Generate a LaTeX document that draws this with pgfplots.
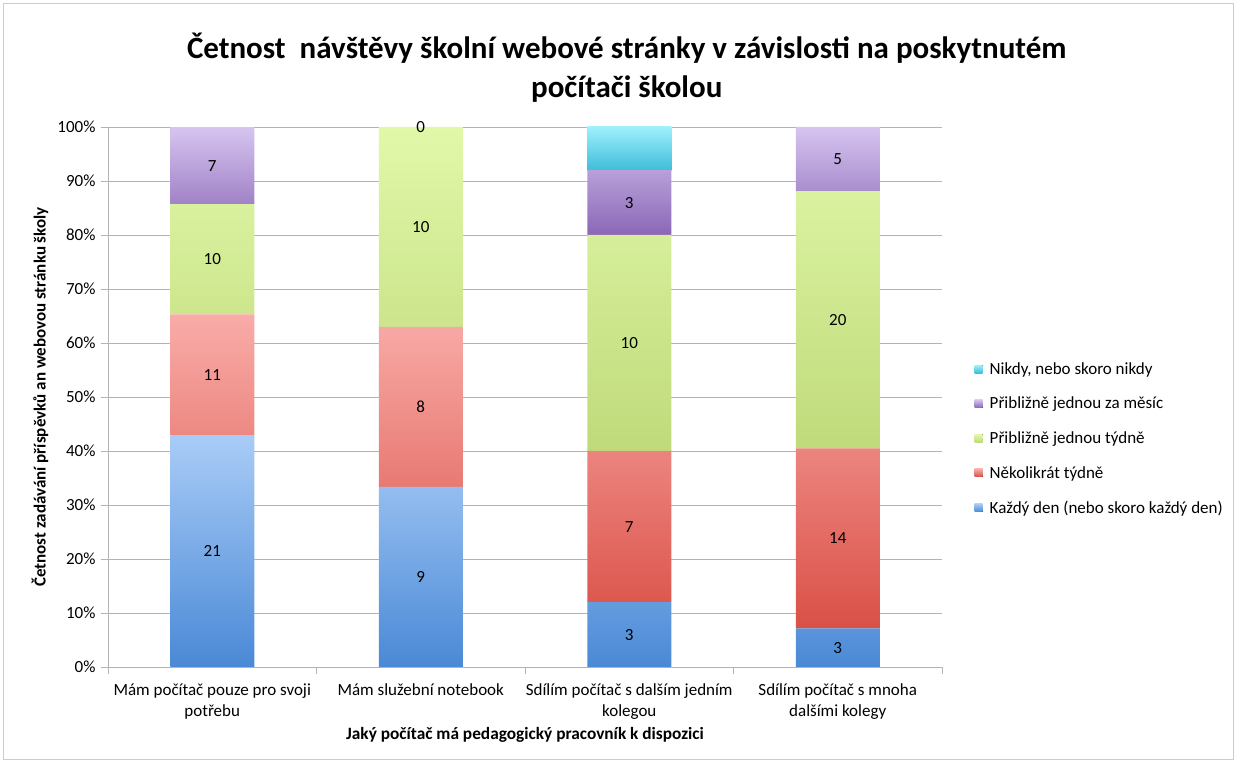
\documentclass[border=0pt]{standalone}
\usepackage{pgfplots}
\pgfplotsset{compat=1.18}
\usepackage{pgfplotstable}
\usepackage{fontspec}
\setmainfont{Carlito}

\definecolor{blueT}{HTML}{A9CCF7}
\definecolor{blueB}{HTML}{4A89D6}
\definecolor{redT}{HTML}{F9ACA8}
\definecolor{redB}{HTML}{DA5047}
\definecolor{greenT}{HTML}{E1F8A9}
\definecolor{greenB}{HTML}{BFDA7A}
\definecolor{purpleT}{HTML}{D6C5F0}
\definecolor{purpleB}{HTML}{8B67B6}
\definecolor{cyanT}{HTML}{9EF0FC}
\definecolor{cyanB}{HTML}{3EBDD9}
\definecolor{gridc}{HTML}{B3B3B3}

% a = Každý den, b = Několikrát týdně, c = Přibližně jednou týdně,
% d = Přibližně jednou za měsíc, e = Nikdy, nebo skoro nikdy
\pgfplotstableread{
x a b c d e
0 21 11 10 7 0
1 9 8 10 0 0
2 3 7 10 3 2
3 3 14 20 5 0
}\datatable

\newcommand{\T}{(\thisrow{a}+\thisrow{b}+\thisrow{c}+\thisrow{d}+\thisrow{e})}

\begin{document}
\begin{tikzpicture}[x=1pt,y=1pt]
\path[use as bounding box] (0,0) rectangle (1238,762);
\draw[gray!40] (3,3) rectangle (1233,759);
\begin{axis}[
  at={(108pt,95pt)}, anchor=south west,
  scale only axis, width=834pt, height=540pt,
  ybar stacked, bar width=84pt,
  xmin=-0.5, xmax=3.5, ymin=0, ymax=100,
  axis x line*=bottom, axis y line*=left,
  axis line style={gridc, -},
  ymajorgrids, grid style={gridc, line width=0.8pt},
  tick align=outside, major tick length=7pt,
  tick style={gridc, line width=0.8pt},
  ytick={0,10,...,100},
  yticklabel={\pgfmathprintnumber{\tick}\%},
  /pgf/number format/assume math mode=true,
  xtick={-0.5,0.5,1.5,2.5,3.5}, xticklabels={},
  extra x ticks={0,1,2,3},
  extra x tick labels={{Mám počítač pouze pro svoji\\potřebu},{Mám služební notebook},{Sdílím počítač s dalším jedním\\kolegou},{Sdílím počítač s mnoha\\dalšími kolegy}},
  extra x tick style={major tick length=0pt, grid=none},
  xticklabel style={align=center, font=\fontsize{17}{21}\selectfont, yshift=-13pt},
  yticklabel style={font=\fontsize{17}{20}\selectfont, xshift=-2pt},
  xlabel={Jaký počítač má pedagogický pracovník k dispozici},
  ylabel={Četnost zadávání příspěvků an webovou stránku školy},
  every axis x label/.style={at={(axis description cs:0.5,-0.1265)}, anchor=center, font=\bfseries\fontsize{17.3}{20}\selectfont},
  every axis y label/.style={at={(axis description cs:-0.0815,0.5)}, rotate=90, anchor=center, font=\bfseries\fontsize{17}{19}\selectfont},
  title={Četnost\ \ návštěvy školní webové stránky v závislosti na poskytnutém\\počítači školou},
  title style={at={(axis description cs:0.622,1.099)}, anchor=center, align=center, font=\bfseries\fontsize{31}{39}\selectfont},
  legend style={draw=none, fill=none, at={(1.039,0.423)}, anchor=west, font=\fontsize{17}{20}\selectfont, row sep=17.3pt, column sep=5pt, inner sep=0pt},
  legend cell align=left,
  reverse legend,
  legend image code/.code={\fill[#1] (0pt,-4pt) rectangle (8pt,4pt);},
]
\addplot[draw=none, top color=blueT, bottom color=blueB] table[x=x, y expr={100*\thisrow{a}/\T}] {\datatable};
\addlegendentry{Každý den (nebo skoro každý den)}
\addplot[draw=none, top color=redT, bottom color=redB] table[x=x, y expr={100*\thisrow{b}/\T}] {\datatable};
\addlegendentry{Několikrát týdně}
\addplot[draw=none, top color=greenT, bottom color=greenB] table[x=x, y expr={100*\thisrow{c}/\T}] {\datatable};
\addlegendentry{Přibližně jednou týdně}
\addplot[draw=none, top color=purpleT, bottom color=purpleB] table[x=x, y expr={100*\thisrow{d}/\T}] {\datatable};
\addlegendentry{Přibližně jednou za měsíc}
\addplot[draw=none, top color=cyanT, bottom color=cyanB] table[x=x, y expr={100*\thisrow{e}/\T}] {\datatable};
\addlegendentry{Nikdy, nebo skoro nikdy}
\end{axis}
% value labels
\begin{axis}[
  at={(108pt,95pt)}, anchor=south west,
  scale only axis, width=834pt, height=540pt,
  xmin=-0.5, xmax=3.5, ymin=0, ymax=100,
  hide axis, clip=false,
  /pgf/number format/assume math mode=true,
  nodes near coords, point meta=explicit,
  every node near coord/.append style={anchor=center, font=\fontsize{17}{20}\selectfont, text=black, inner sep=0pt},
]
\addplot[draw=none, mark=none] table[x=x, y expr={100*(\thisrow{a}/2)/\T}, meta=a] {\datatable};
\addplot[draw=none, mark=none] table[x=x, y expr={100*(\thisrow{a}+\thisrow{b}/2)/\T}, meta=b] {\datatable};
\addplot[draw=none, mark=none] table[x=x, y expr={100*(\thisrow{a}+\thisrow{b}+\thisrow{c}/2)/\T}, meta=c] {\datatable};
\addplot[draw=none, mark=none] table[x=x, y expr={100*(\thisrow{a}+\thisrow{b}+\thisrow{c}+\thisrow{d}/2)/\T}, meta=d] {\datatable};
\end{axis}
\end{tikzpicture}
\end{document}
